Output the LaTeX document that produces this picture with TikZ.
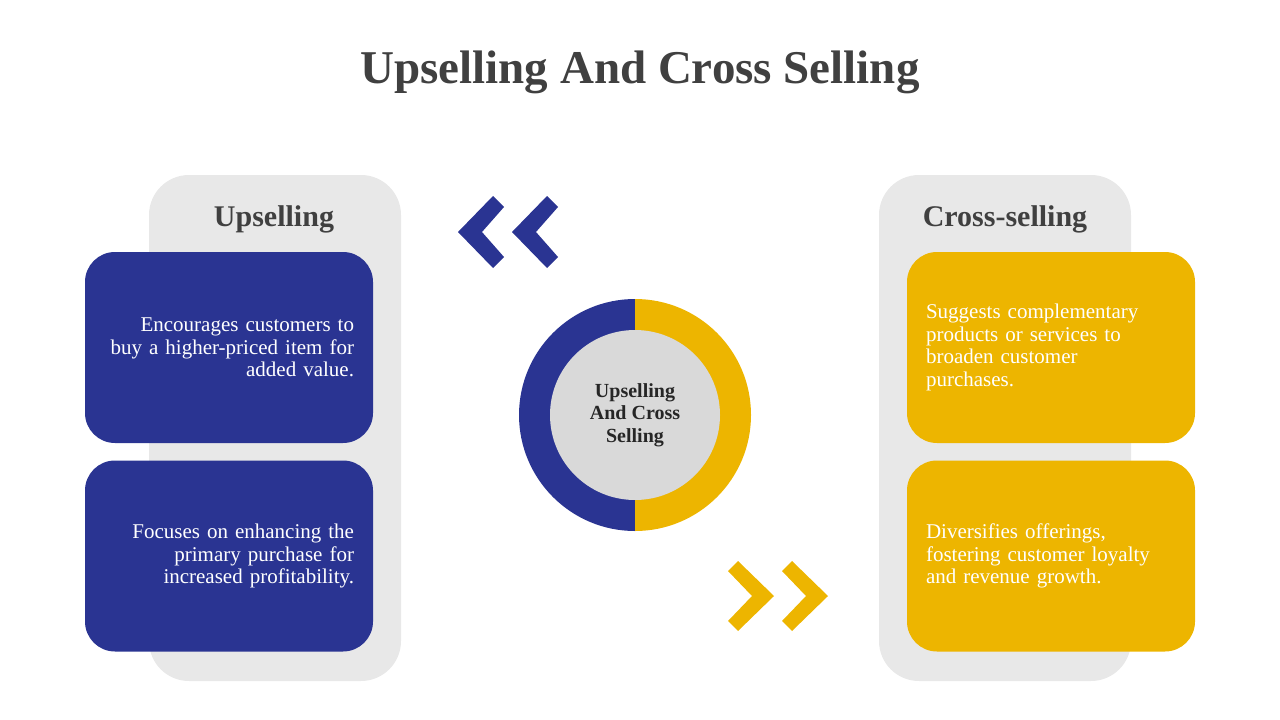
\documentclass[tikz,border=0pt]{standalone}
\usepackage{fontspec}
\setmainfont{Liberation Serif}
\usetikzlibrary{positioning}
\definecolor{upblue}{HTML}{2A3492}
\definecolor{crossyellow}{HTML}{EDB500}
\definecolor{panelgrey}{HTML}{E8E8E8}
\definecolor{hubgrey}{HTML}{D9D9D9}
\definecolor{titlegrey}{HTML}{404040}
\definecolor{hubtext}{HTML}{262626}

\begin{document}
\begin{tikzpicture}[
        x=1pt, y=-1pt,
        panel/.style={fill=panelgrey, rounded corners=40pt, inner sep=0pt,
            minimum width=252pt, minimum height=506pt},
        card/.style={rounded corners=30pt, inner xsep=19pt, inner ysep=0pt,
            minimum height=191pt, text width=250pt, text=white,
            font=\fontsize{21}{22.5}\selectfont},
        heading/.style={text=titlegrey, font=\fontsize{30}{34}\selectfont\bfseries}
    ]
    \useasboundingbox (0,0) rectangle (1280,720);

    % title
    \node[text=titlegrey, font=\fontsize{47}{54}\selectfont\bfseries] (title) at (640,72) {Upselling And Cross Selling};

    % side panels
    \node[panel] (uppanel) at (275,428) {};
    \node[panel] (crosspanel) at (1005,428) {};
    \node[heading] (uphead) at (274,219) {Upselling};
    \node[heading] (crosshead) at (1005,219) {Cross-selling};

    % upselling cards
    \node[card, fill=upblue, align=right] (upone) at (229,347.5)
        {Encourages customers to\\buy a higher-priced item for\\added value.};
    \node[card, fill=upblue, align=right] (uptwo) at (229,556)
        {Focuses on enhancing the\\primary purchase for\\increased profitability.};

    % cross-selling cards
    \node[card, fill=crossyellow, align=left] (crossone) at (1051,347.5)
        {Suggests complementary\\products or services to\\broaden customer\\purchases.};
    \node[card, fill=crossyellow, align=left] (crosstwo) at (1051,556)
        {Diversifies offerings,\\fostering customer loyalty\\and revenue growth.};

    % ring in the middle
    \fill[upblue] (635,299) arc[start angle=90, end angle=270, radius=116pt] -- cycle;
    \fill[crossyellow] (635,299) arc[start angle=90, end angle=-90, radius=116pt] -- cycle;
    \node[circle, fill=hubgrey, minimum size=170pt, inner sep=0pt, align=center,
        text=hubtext, font=\fontsize{20}{22.5}\selectfont\bfseries] (hub) at (635,415)
        {Upselling\\And Cross\\Selling};

    % chevrons
    \foreach \dx in {0,54} {
        \fill[upblue] (458+\dx,232) -- (493+\dx,196) -- (504+\dx,207) -- (482+\dx,232)
            -- (504+\dx,257) -- (493+\dx,268) -- cycle;
        \fill[crossyellow] (774+\dx,596) -- (738+\dx,561) -- (728+\dx,571) -- (752+\dx,596)
            -- (728+\dx,621) -- (738+\dx,631) -- cycle;
    }
\end{tikzpicture}
\end{document}
